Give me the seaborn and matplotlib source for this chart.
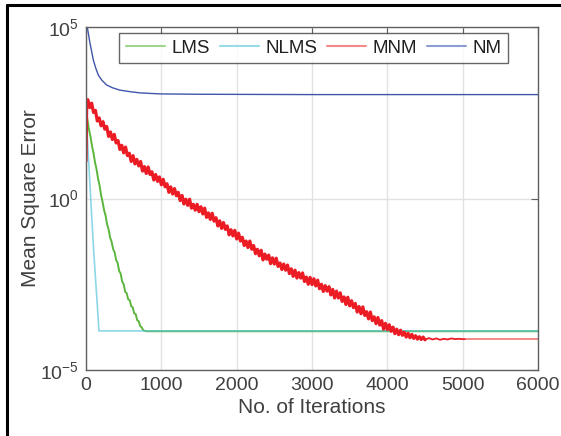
import numpy as np
import pandas as pd
import matplotlib
matplotlib.use("Agg")
import matplotlib.pyplot as plt
from matplotlib.lines import Line2D
import seaborn as sns

# exponents (log10 of MSE)
lms_iter = [0, 20, 40, 60, 80, 100, 120, 140, 160, 180, 200, 220, 240, 260, 280, 300,
            320, 340, 360, 380, 400, 420, 440, 460, 480, 500, 520, 540, 560, 580, 600,
            620, 640, 660, 680, 700, 720, 740, 760, 780, 800, 6000]
lms_exp = [2.50, 2.29, 2.00, 1.80, 1.53, 1.32, 1.05, 0.85, 0.58, 0.38, 0.10, -0.10, -0.34,
           -0.50, -0.75, -0.90, -1.14, -1.26, -1.47, -1.57, -1.79, -1.88, -2.11, -2.19,
           -2.42, -2.50, -2.72, -2.76, -2.94, -2.96, -3.14, -3.17, -3.35, -3.37, -3.55,
           -3.58, -3.72, -3.76, -3.84, -3.86, -3.87, -3.87]

nlms_iter = [0, 3, 25, 50, 75, 100, 125, 150, 172, 6000]
nlms_exp = [0.0, 2.5, 1.5, 0.5, -0.5, -1.45, -2.3, -3.1, -3.86, -3.86]

mnm_iter = [0, 10] + list(range(25, 4501, 25))
mnm_exp = [1.10, 2.87,
           2.88, 2.65, 2.78, 2.51, 2.57, 2.26, 2.35, 2.12, 2.24, 2.02,
           2.10, 1.81, 1.94, 1.72, 1.87, 1.62, 1.69, 1.43, 1.55, 1.33,
           1.50, 1.25, 1.32, 1.08, 1.25, 1.01, 1.14, 0.95, 1.08, 0.80,
           0.93, 0.73, 0.92, 0.70, 0.78, 0.54, 0.70, 0.50, 0.63, 0.40,
           0.56, 0.34, 0.43, 0.18, 0.34, 0.13, 0.29, 0.08, 0.18, -0.06,
           0.09, -0.16, -0.02, -0.20, -0.02, -0.28, -0.17, -0.34, -0.17, -0.38,
           -0.24, -0.45, -0.28, -0.55, -0.42, -0.61, -0.43, -0.66, -0.56, -0.80,
           -0.65, -0.87, -0.70, -0.90, -0.80, -1.06, -0.91, -1.09, -0.93, -1.18,
           -1.01, -1.24, -1.13, -1.37, -1.24, -1.43, -1.24, -1.48, -1.37, -1.61,
           -1.48, -1.67, -1.51, -1.79, -1.62, -1.77, -1.65, -1.90, -1.73, -1.91,
           -1.74, -1.98, -1.88, -2.07, -1.91, -2.09, -1.94, -2.19, -2.05, -2.27,
           -2.09, -2.32, -2.16, -2.32, -2.17, -2.42, -2.29, -2.50, -2.30, -2.51,
           -2.34, -2.55, -2.38, -2.63, -2.50, -2.71, -2.54, -2.70, -2.57, -2.81,
           -2.65, -2.90, -2.70, -2.90, -2.75, -3.00, -2.87, -3.09, -2.88, -3.13,
           -2.98, -3.18, -3.06, -3.31, -3.15, -3.36, -3.16, -3.41, -3.30, -3.51,
           -3.31, -3.56, -3.45, -3.65, -3.47, -3.69, -3.56, -3.81, -3.64, -3.82,
           -3.68, -3.87, -3.75, -3.94, -3.81, -3.97, -3.84, -3.99, -3.90, -4.04,
           -3.93, -4.06, -3.96, -4.08, -4.00, -4.10, -4.03, -4.11, -4.04, -4.12]
mnm_mid_iter = list(range(4500, 5051, 50))
mnm_mid_exp = [-4.12, -4.07, -4.11, -4.08, -4.12, -4.09, -4.11, -4.08, -4.10, -4.09,
               -4.10, -4.10]
mnm_tail_iter = [5050, 6000]
mnm_tail_exp = [-4.10, -4.10]

nm_iter = [0, 17, 53, 97, 130, 163, 210, 274, 350, 451, 600, 717, 982, 1500, 3000, 6000]
nm_exp = [5.30, 5.00, 4.53, 4.04, 3.80, 3.60, 3.45, 3.31, 3.23, 3.16, 3.11, 3.08, 3.05,
          3.04, 3.03, 3.03]

labels = ["LMS", "NLMS", "MNM", "NM"]
line_colors = ["#5cb63e", "#5cc6dc", "#ec1c24", "#3f56aa"]
legend_colors = ["#9fd68c", "#95dbe8", "#f28a8a", "#8d9dd4"]

sns.set_style("white")
plt.rcParams["font.family"] = ["Liberation Sans", "DejaVu Sans"]
plt.rcParams["mathtext.fontset"] = "custom"
plt.rcParams["mathtext.rm"] = "Liberation Sans"
plt.rcParams["mathtext.it"] = "Liberation Sans"

fig = plt.figure(figsize=(5.61, 4.36), dpi=100)
ax = fig.add_axes([0.1533, 0.1514, 0.8057, 0.7866])

mse = lambda e: np.power(10.0, np.array(e))
sns.lineplot(x=lms_iter, y=mse(lms_exp), ax=ax, color=line_colors[0], lw=1.4, sort=False)
sns.lineplot(x=nlms_iter, y=mse(nlms_exp), ax=ax, color=line_colors[1], lw=1.2, alpha=0.7, sort=False)
sns.lineplot(x=mnm_iter, y=mse(mnm_exp), ax=ax, color=line_colors[2], lw=2.3, sort=False)
sns.lineplot(x=mnm_mid_iter, y=mse(mnm_mid_exp), ax=ax, color=line_colors[2], lw=1.3, sort=False)
sns.lineplot(x=mnm_tail_iter, y=mse(mnm_tail_exp), ax=ax, color=legend_colors[2], lw=1.4, sort=False)
sns.lineplot(x=nm_iter, y=mse(nm_exp), ax=ax, color=line_colors[3], lw=1.0, sort=False)

ax.set_yscale("log")
ax.set_xlim(0, 6000)
ax.set_ylim(1e-5, 1e5)
ax.set_xticks(range(0, 6001, 1000))
ax.set_yticks([1e-5, 1e0, 1e5])
ax.set_yticklabels([r"$10^{-5}$", r"$10^{0}$", r"$10^{5}$"])
ax.yaxis.set_minor_locator(matplotlib.ticker.NullLocator())
ax.grid(True, color="#e2e2e2", lw=1.0)
ax.set_axisbelow(True)
for s in ax.spines.values():
    s.set_color("#606060")
    s.set_linewidth(1.0)
ax.tick_params(direction="in", top=True, right=True, length=5, color="#606060",
               labelcolor="#404040", labelsize=14, pad=5)

ax.set_xlabel("No. of Iterations", fontsize=15, color="#404040", labelpad=3)
ax.set_ylabel("Mean Square Error", fontsize=15, color="#404040", labelpad=0)

handles = [Line2D([], [], color=c, lw=1.5) for c in legend_colors]
leg = ax.legend(handles, labels, ncol=4, loc="upper center", bbox_to_anchor=(0.504, 0.983),
                fontsize=13.5, frameon=True, fancybox=False, handlelength=2.1,
                handletextpad=0.35, columnspacing=0.5, borderpad=0.35, borderaxespad=0)
leg.get_frame().set_edgecolor("#404040")
leg.get_frame().set_linewidth(1.0)
for t in leg.get_texts():
    t.set_color("#202020")

# black frame at top and left of the picture
fig.add_artist(Line2D([0.012, 1.0], [0.988, 0.988], color="black", lw=2.2, transform=fig.transFigure))
fig.add_artist(Line2D([0.012, 0.012], [0.0, 0.988], color="black", lw=2.2, transform=fig.transFigure))

fig.savefig("out.png", dpi=100)
